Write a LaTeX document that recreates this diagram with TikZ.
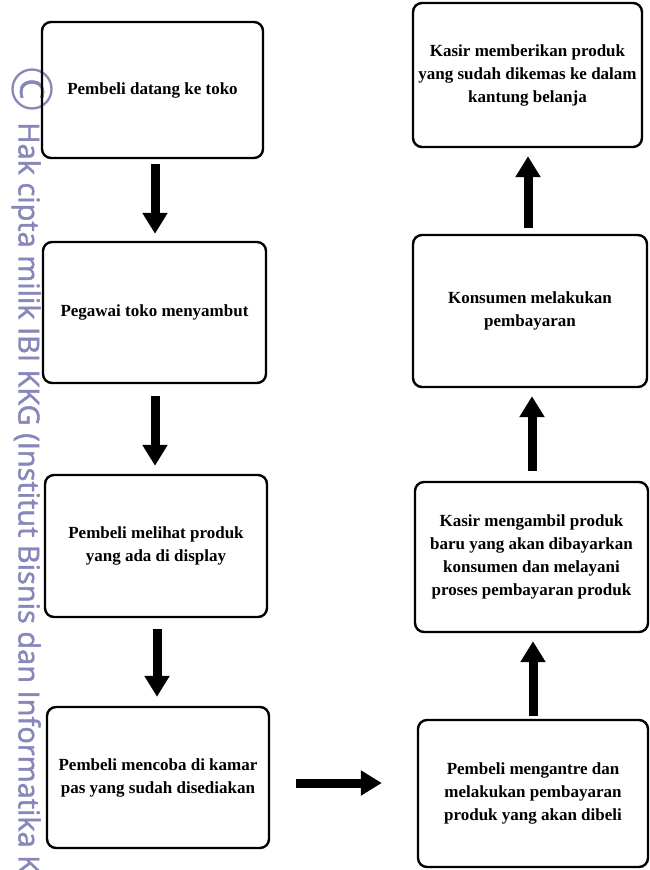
\documentclass[tikz,border=0pt]{standalone}
\usepackage{fontspec}
\setmainfont{Liberation Serif}
\newfontfamily\wmfont[FakeBold=1.6]{Open Sans}
\usetikzlibrary{arrows.meta}
\definecolor{wmcol}{RGB}{135,135,185}
\begin{document}
\begin{tikzpicture}[x=1pt,y=-1pt,
  box/.style={draw, line width=2.4pt, rounded corners=9pt, align=center, inner sep=0pt,
    font=\fontsize{17}{23}\selectfont\bfseries},
  arr/.style={line width=9pt, -{Triangle[width=24pt,length=21pt]}},
  wmtext/.style={rotate=-90, inner sep=0pt, text=wmcol}]
\useasboundingbox (0,0) rectangle (649,870);
\begin{scope}
\clip (0,0) rectangle (649,870);
% watermark
\node[circle, draw=wmcol, line width=2.3pt, minimum size=39pt, inner sep=0pt] (copy) at (32,89) {};
\node[wmtext, font=\wmfont\fontsize{33}{33}\selectfont] (copyc) at (copy) {C};
\node[wmtext, anchor=base west, font=\wmfont\fontsize{29}{30}\selectfont] (wm) at (18.5,122)
  {Hak cipta milik IBI KKG (Institut Bisnis dan Informatika K};
\end{scope}
% left column
\node[box, minimum width=221pt, minimum height=136pt] (l1) at (152.5,90) {Pembeli datang ke toko};
\node[box, minimum width=223pt, minimum height=141pt] (l2) at (154.5,312.5) {Pegawai toko menyambut};
\node[box, minimum width=222pt, minimum height=142pt] (l3) at (156,546) {Pembeli melihat produk\\yang ada di display};
\node[box, minimum width=222pt, minimum height=141pt] (l4) at (158,777.5) {Pembeli mencoba di kamar\\pas yang sudah disediakan};
% right column
\node[box, minimum width=229pt, minimum height=144pt] (r1) at (527.5,75) {Kasir memberikan produk\\yang sudah dikemas ke dalam\\kantung belanja};
\node[box, minimum width=234pt, minimum height=152pt] (r2) at (530,311) {Konsumen melakukan\\pembayaran};
\node[box, minimum width=233pt, minimum height=150pt] (r3) at (531.5,557) {Kasir mengambil produk\\baru yang akan dibayarkan\\konsumen dan melayani\\proses pembayaran produk};
\node[box, minimum width=230pt, minimum height=147pt] (r4) at (533,793.5) {Pembeli mengantre dan\\melakukan pembayaran\\produk yang akan dibeli};
% arrows
\draw[arr, shorten <=5pt, shorten >=7pt] ([xshift=2.5pt]l1.south) -- ([xshift=0.5pt]l2.north);
\draw[arr, shorten <=12pt, shorten >=8pt] ([xshift=0.5pt]l2.south) -- ([xshift=-1pt]l3.north);
\draw[arr, shorten <=11pt, shorten >=9pt] ([xshift=1pt]l3.south) -- ([xshift=-1pt]l4.north);
\draw[arr, shorten <=26pt, shorten >=35pt] ([yshift=-5.5pt]l4.east) -- ([yshift=10.5pt]r4.west);
\draw[arr, shorten <=3pt, shorten >=8pt] (r4.north) -- ([xshift=1.5pt]r3.south);
\draw[arr, shorten <=10pt, shorten >=8pt] ([xshift=0.5pt]r3.north) -- ([xshift=2pt]r2.south);
\draw[arr, shorten <=6pt, shorten >=8pt] ([xshift=-2pt]r2.north) -- ([xshift=0.5pt]r1.south);
\end{tikzpicture}
\end{document}
